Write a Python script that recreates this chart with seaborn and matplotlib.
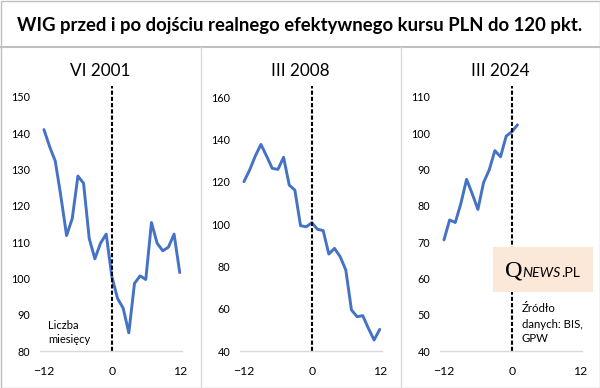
import matplotlib
matplotlib.use("Agg")
import matplotlib.pyplot as plt
import seaborn as sns
from matplotlib.lines import Line2D
from matplotlib.patches import Rectangle

# months relative to the moment the real effective PLN rate reached 120 pts
months = [-12, -11, -10, -9, -8, -7, -6, -5, -4, -3, -2, -1, 0,
          1, 2, 3, 4, 5, 6, 7, 8, 9, 10, 11, 12]

wig_2001 = [141.0, 136.3, 132.3, 122.5, 111.8, 116.5, 128.2, 126.2, 111.0, 105.4,
            109.7, 112.2, 100.5, 94.5, 91.8, 85.0, 98.6, 100.7, 99.7, 115.4,
            109.7, 107.6, 108.6, 112.2, 101.6]
wig_2008 = [120.0, 125.5, 132.1, 137.6, 132.1, 126.3, 125.8, 131.5, 118.4, 116.0,
            99.2, 98.7, 100.6, 97.5, 96.9, 85.8, 88.5, 84.6, 78.3, 59.4,
            56.2, 56.7, 50.7, 45.2, 50.2]
wig_2024 = [70.6, 76.1, 75.4, 80.7, 87.3, 83.3, 79.0, 86.4, 89.9, 95.2,
            93.5, 99.2, 100.4, 102.3]

titles = ["VI 2001", "III 2008", "III 2024"]
series = [wig_2001, wig_2008, wig_2024]
yticks = [[80, 90, 100, 110, 120, 130, 140, 150],
          [40, 60, 80, 100, 120, 140, 160],
          [40, 50, 60, 70, 80, 90, 100, 110]]
ylims = [(80, 153), (40, 165.2), (40, 113)]

sns.set_style("white")
plt.rcParams["font.family"] = ["Lato", "DejaVu Sans"]

W, H = 600, 388
fig = plt.figure(figsize=(6, 3.88), dpi=100)


def fx(x):
    return x / W


def fy(y):
    return 1 - y / H


# frame: outer border, title separator, panel separators
fig.add_artist(Rectangle((fx(0.5), fy(387.5)), fx(599), 386.5 / H, transform=fig.transFigure,
                         fill=False, edgecolor="#BFBFBF", linewidth=1))
fig.add_artist(Line2D([0, 1], [fy(47), fy(47)], transform=fig.transFigure,
                      color="#BFBFBF", linewidth=1.5))
for xs in (200.5, 400.5):
    fig.add_artist(Line2D([fx(xs), fx(xs)], [fy(47), fy(387)], transform=fig.transFigure,
                          color="#D9D9D9", linewidth=1))

fig.text(0.5, fy(31), "WIG przed i po dojściu realnego efektywnego kursu PLN do 120 pkt.",
         ha="center", va="baseline", fontsize=13.3, fontweight="bold", color="#000000")

for i in range(3):
    x0 = 200 * i
    ax = fig.add_axes([fx(40 + x0), fy(351), 142 / W, (351 - 86) / H])
    vals = series[i]
    sns.lineplot(x=months[:len(vals)], y=vals, ax=ax, color="#4472C4", linewidth=2.1)
    ax.axvline(0, color="black", linewidth=1.5, linestyle=(0, (2, 1)))
    ax.set_xlim(-12.7, 12.4)
    ax.set_ylim(*ylims[i])
    ax.set_xticks([-12, 0, 12])
    ax.set_yticks(yticks[i])
    ax.set_xlabel("")
    ax.set_ylabel("")
    for s in ("top", "right", "left"):
        ax.spines[s].set_visible(False)
    ax.spines["bottom"].set_color("#D9D9D9")
    ax.spines["bottom"].set_linewidth(1)
    ax.tick_params(axis="x", length=0, pad=11, labelsize=8.8, labelcolor="#000000")
    ax.tick_params(axis="y", length=0, pad=7, labelsize=7.8, labelcolor="#000000")
    ax.set_facecolor("none")
    fig.text(fx(x0 + 100), fy(76), titles[i], ha="center", va="baseline",
             fontsize=12.3, color="#000000")

fig.text(fx(48), fy(329), "Liczba", fontsize=8, va="baseline", color="#000000")
fig.text(fx(48), fy(343), "miesięcy", fontsize=8, va="baseline", color="#000000")

for k, line in enumerate(["Źródło", "danych: BIS,", "GPW"]):
    fig.text(fx(522), fy(312.5 + 15 * k), line, fontsize=8.2, va="baseline", color="#000000")

# QNEWS.PL badge
fig.add_artist(Rectangle((fx(493), fy(292)), 100 / W, 45 / H, transform=fig.transFigure,
                         facecolor="#FCE8D8", edgecolor="none"))
renderer = fig.canvas.get_renderer()
t = fig.text(fx(505), fy(277), "Q", fontsize=17.5, family="Liberation Serif",
             va="baseline", color="#000000")
ext = t.get_window_extent(renderer)
t2 = fig.text(ext.x1 / W, fy(277), "NEWS", fontsize=10.2, style="italic",
              va="baseline", color="#000000")
ext2 = t2.get_window_extent(renderer)
fig.text(ext2.x1 / W, fy(277), ".PL", fontsize=10.2, va="baseline", color="#000000")

fig.savefig("out.png", dpi=100)
